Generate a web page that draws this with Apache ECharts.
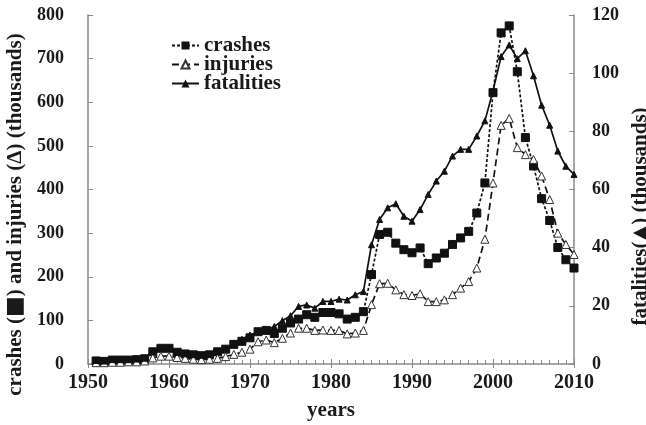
<!DOCTYPE html>
<html><head><meta charset="utf-8">
<script src="https://cdn.jsdelivr.net/npm/echarts@6/dist/echarts.min.js"></script>
<style>html,body{margin:0;padding:0;background:#fff}#c{width:646px;height:425px}</style>
</head><body><div id="c"></div>
<script>
const years = [];
for (let y = 1951; y <= 2010; y++) years.push(y);
const crashes = [7,6,9,9,9,10,12,28,36,36,27,23,21,19,21,28,34,45,52,60,
  74,77,70,82,94,103,113,107,118,118,115,103,107,120,205,297,302,277,262,255,
  266,230,243,254,274,289,304,346,415,622,759,775,670,519,454,379,329,267,239,220];
const injuries = [3,3,4,4,5,5,7,14,18,18,15,13,11,10,11,13,17,22,27,34,
  51,55,49,59,71,82,82,77,78,77,77,69,71,77,136,184,185,170,159,157,
  161,143,143,147,159,174,189,220,286,415,547,563,496,480,469,431,377,300,274,251];
const fatalities = [1.2,1.0,1.5,1.5,1.5,1.7,2.0,4.3,5.5,5.5,4.0,3.5,3.2,3.0,3.3,4.3,5.3,7.0,8.5,10.0,
  11.1,11.7,12.9,14.9,16.6,19.8,20.3,19.2,21.5,21.5,22.3,22.0,23.8,24.9,41.0,49.7,53.7,55.1,50.8,49.1,
  53.1,58.3,62.9,66.3,71.5,73.8,73.8,78.4,83.6,93.9,105.7,109.7,105.0,107.7,99.1,89.0,82.1,73.2,68.0,65.2];
const xTicks = [1950, 2010, 10];
const leftTicks = [0, 800, 100];
const rightTicks = [0, 120, 20];

const pair = arr => years.map((y, i) => [y, arr[i]]);
const font = 'Liberation Serif, Times New Roman, serif';
const txt = '#1a1a1a';
const axisCol = '#8a8a8a';
const base = {color: txt, fontFamily: font, fontWeight: 'bold'};
const withSize = (s, extra) => Object.assign({}, base, {fontSize: s}, extra || {});

const chart = echarts.init(document.getElementById('c'), null, {renderer: 'canvas'});
chart.setOption({
  animation: false,
  backgroundColor: '#fff',
  grid: {left: 88, right: 72, top: 15, bottom: 61, containLabel: false, outerBoundsMode: 'none'},
  legend: {
    orient: 'vertical', left: 166, top: 30, itemGap: -2, itemWidth: 27, itemHeight: 10,
    textStyle: withSize(21, {lineHeight: 19}),
    data: ['crashes', 'injuries', 'fatalities']
  },
  xAxis: [{
    type: 'value', min: xTicks[0], max: xTicks[1], interval: xTicks[2],
    name: 'years', nameLocation: 'middle', nameGap: 36,
    nameTextStyle: withSize(21),
    axisLine: {show: true, lineStyle: {color: axisCol, width: 1.5}},
    axisTick: {show: true, inside: true, length: 5, lineStyle: {color: axisCol}},
    minorTick: {show: true, splitNumber: 10, length: 4, lineStyle: {color: axisCol}},
    axisLabel: withSize(20, {margin: 9, formatter: v => String(v)}),
    splitLine: {show: false}
  }, {
    type: 'value', min: xTicks[0], max: xTicks[1], interval: xTicks[2], position: 'bottom',
    axisLine: {show: false},
    axisTick: {show: true, inside: false, length: 4, lineStyle: {color: axisCol}},
    axisLabel: {show: false}, splitLine: {show: false}
  }],
  yAxis: [{
    type: 'value', min: leftTicks[0], max: leftTicks[1], interval: leftTicks[2],
    position: 'left',
    name: 'crashes ({sq|\u25A0}) and injuries (\u0394) (thousands)',
    nameLocation: 'middle', nameGap: 47, nameRotate: 90,
    nameTextStyle: withSize(21, {padding: [0, 50, 0, 0],
      rich: {sq: withSize(22, {fontFamily: 'DejaVu Sans'})}}),
    axisLine: {show: true, lineStyle: {color: axisCol, width: 1.5}},
    axisTick: {show: true, inside: true, length: 5, lineStyle: {color: axisCol}},
    axisLabel: withSize(18, {margin: 24}),
    splitLine: {show: false}
  }, {
    type: 'value', min: rightTicks[0], max: rightTicks[1], interval: rightTicks[2],
    position: 'right',
    name: 'fatalities({tr|\u25B2}) (thousands)',
    nameLocation: 'middle', nameGap: 50, nameRotate: 90,
    nameTextStyle: withSize(21, {padding: [0, 54, 0, 0],
      rich: {tr: withSize(22, {fontFamily: 'DejaVu Sans'})}}),
    axisLine: {show: true, lineStyle: {color: axisCol, width: 1.5}},
    axisTick: {show: true, inside: true, length: 5, lineStyle: {color: axisCol}},
    axisLabel: withSize(18, {margin: 18}),
    splitLine: {show: false}
  }],
  series: [{
    name: 'crashes', type: 'line', xAxisIndex: 0, yAxisIndex: 0, data: pair(crashes),
    symbol: 'rect', symbolSize: 8, showAllSymbol: true,
    lineStyle: {color: '#111', width: 1.7, type: [3, 2]},
    itemStyle: {color: '#111', borderColor: '#111'}
  }, {
    name: 'injuries', type: 'line', xAxisIndex: 0, yAxisIndex: 0, data: pair(injuries),
    symbol: 'triangle', symbolSize: 8, showAllSymbol: true,
    lineStyle: {color: '#111', width: 1.7, type: [7, 4]},
    itemStyle: {color: '#fff', borderColor: '#333', borderWidth: 1}
  }, {
    name: 'fatalities', type: 'line', xAxisIndex: 0, yAxisIndex: 1, data: pair(fatalities),
    symbol: 'triangle', symbolSize: 6, showAllSymbol: true,
    lineStyle: {color: '#111', width: 1.7, type: 'solid'},
    itemStyle: {color: '#111', borderColor: '#111'}
  }]
});
</script></body></html>
